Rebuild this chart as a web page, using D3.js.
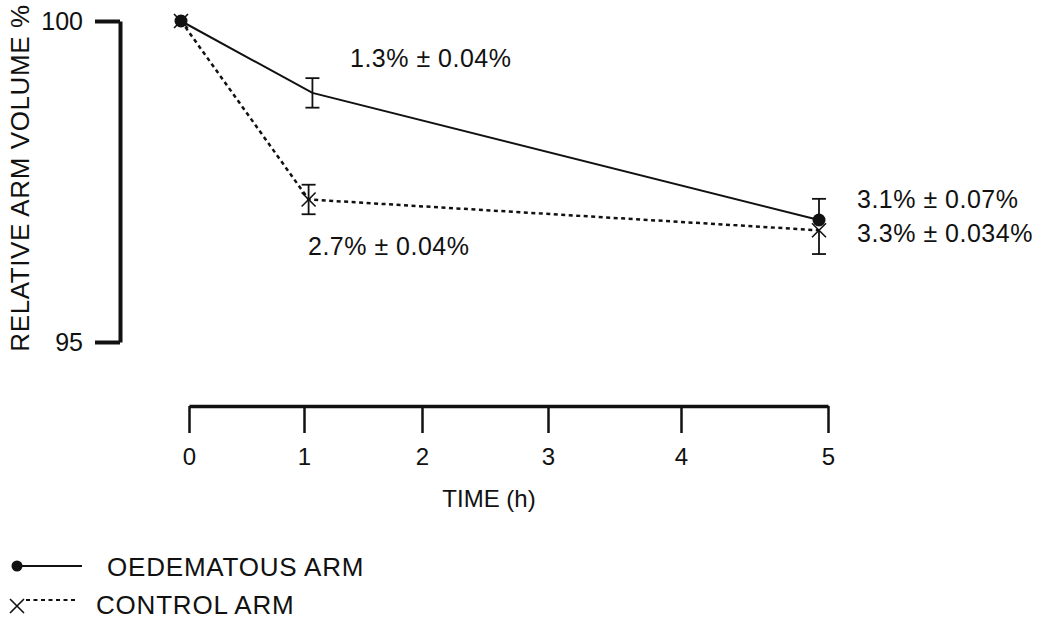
<!DOCTYPE html>
<html>
<head>
<meta charset="utf-8">
<script src="https://cdn.jsdelivr.net/npm/d3@7"></script>
<style>
  body { margin: 0; background: #fff; }
  text { font-family: "Liberation Sans", Arial, Helvetica, sans-serif; fill: #111; }
</style>
</head>
<body>
<div id="chart"></div>
<script>
var svgWidth = 1055;
var svgHeight = 621;

// data
var timeTicks = [0, 1, 2, 3, 4, 5];
var volumeTicks = [95, 100];

var oedTimes = [0, 1.03, 5];
var oedVolume = [100, 98.88, 96.9];
var oedErrUp = [0, 0.23, 0.33];
var oedErrDown = [0, 0.23, 0];

var ctrlTimes = [0, 1, 5];
var ctrlVolume = [100, 97.22, 96.74];
var ctrlErrUp = [0, 0.23, 0];
var ctrlErrDown = [0, 0.23, 0.37];

var annotations = ["1.3% ± 0.04%", "2.7% ± 0.04%", "3.1% ± 0.07%", "3.3% ± 0.034%"];

var seriesNames = ["OEDEMATOUS ARM", "CONTROL ARM"];

var svg = d3.select("#chart")
    .append("svg")
    .attr("width", svgWidth)
    .attr("height", svgHeight);

/********************************************************/

var xScale = d3.scaleLinear().domain([0, 5]).range([181, 819]);
// the printed time axis is not evenly spaced
var xAxisScale = d3.scaleLinear().domain(timeTicks).range([189, 304, 422, 548, 681, 828]);
var yScale = d3.scaleLinear().domain([95, 100]).range([342, 21]);

/********************************************************/

var leftAxis = d3.axisLeft(yScale)
    .tickValues(volumeTicks)
    .tickFormat(d3.format("d"))
    .tickSize(25)
    .tickSizeOuter(0)
    .tickPadding(12);

var yAxisG = svg.append("g")
    .attr("transform", "translate(120, 0)")
    .call(leftAxis);
yAxisG.select(".domain").attr("stroke", "#111").attr("stroke-width", 4);
yAxisG.selectAll(".tick line").attr("stroke", "#111").attr("stroke-width", 4);
yAxisG.selectAll(".tick text")
    .attr("font-size", 25)
    .attr("font-family", "Liberation Sans, Arial, sans-serif")
    .attr("fill", "#111");

var bottomAxis = d3.axisBottom(xAxisScale)
    .tickValues(timeTicks)
    .tickFormat(d3.format("d"))
    .tickSize(27)
    .tickSizeOuter(0)
    .tickPadding(15);

var xAxisG = svg.append("g")
    .attr("transform", "translate(0, 406)")
    .call(bottomAxis);
xAxisG.select(".domain").attr("stroke", "#111").attr("stroke-width", 3.5);
xAxisG.selectAll(".tick line").attr("stroke", "#111").attr("stroke-width", 2.5);
xAxisG.selectAll(".tick text")
    .attr("font-size", 24)
    .attr("font-family", "Liberation Sans, Arial, sans-serif")
    .attr("fill", "#111");

/********************************************************/

svg.append("text")
    .attr("transform", "rotate(-90)")
    .attr("x", -178)
    .attr("y", 29)
    .attr("text-anchor", "middle")
    .attr("font-size", 26)
    .attr("letter-spacing", 0.6)
    .text("RELATIVE ARM VOLUME %");

svg.append("text")
    .attr("x", 489)
    .attr("y", 507)
    .attr("text-anchor", "middle")
    .attr("font-size", 24)
    .text("TIME (h)");

/********************************************************/

var oedData = oedTimes.map((t, i) => ({t: t, v: oedVolume[i], up: oedErrUp[i], down: oedErrDown[i]}));
var ctrlData = ctrlTimes.map((t, i) => ({t: t, v: ctrlVolume[i], up: ctrlErrUp[i], down: ctrlErrDown[i]}));

var line = d3.line()
    .x(d => xScale(d.t))
    .y(d => yScale(d.v));

svg.append("path")
    .datum(ctrlData)
    .attr("d", line)
    .attr("fill", "none")
    .attr("stroke", "#111")
    .attr("stroke-width", 2.5)
    .attr("stroke-dasharray", "4,3.5");

svg.append("path")
    .datum(oedData)
    .attr("d", line)
    .attr("fill", "none")
    .attr("stroke", "#111")
    .attr("stroke-width", 2);

function drawErrors(data) {
    var g = svg.append("g").attr("stroke", "#111").attr("stroke-width", 1.8);
    data.filter(d => d.up > 0 || d.down > 0).forEach(function (d) {
        var x = xScale(d.t);
        var y0 = yScale(d.v + d.up);
        var y1 = yScale(d.v - d.down);
        g.append("line").attr("x1", x).attr("x2", x).attr("y1", y0).attr("y2", y1);
        if (d.up > 0) g.append("line").attr("x1", x - 7).attr("x2", x + 7).attr("y1", y0).attr("y2", y0);
        if (d.down > 0) g.append("line").attr("x1", x - 7).attr("x2", x + 7).attr("y1", y1).attr("y2", y1);
    });
}
drawErrors(oedData);
drawErrors(ctrlData);

// oedematous markers: filled circles (not at 1 h, where only the bar shows)
svg.selectAll(".oed-dot")
    .data(oedData.filter(d => d.t === 0 || d.t === 5))
    .enter()
    .append("circle")
    .attr("class", "oed-dot")
    .attr("cx", d => xScale(d.t))
    .attr("cy", d => yScale(d.v))
    .attr("r", 6.5)
    .attr("fill", "#111");

// control markers: crosses
svg.selectAll(".ctrl-x")
    .data(ctrlData)
    .enter()
    .append("path")
    .attr("class", "ctrl-x")
    .attr("transform", d => `translate(${xScale(d.t)}, ${yScale(d.v)})`)
    .attr("d", "M-7,-7L7,7M-7,7L7,-7")
    .attr("stroke", "#111")
    .attr("stroke-width", 1.6)
    .attr("fill", "none");

/********************************************************/

var annX = [350, 308, 857, 857];
var annY = [67, 255, 208, 242];
svg.selectAll(".ann")
    .data(annotations)
    .enter()
    .append("text")
    .attr("class", "ann")
    .attr("x", (d, i) => annX[i])
    .attr("y", (d, i) => annY[i])
    .attr("font-size", 25)
    .attr("letter-spacing", 0.5)
    .text(d => d);

/********************************************************/

var legend = svg.append("g");
legend.append("line")
    .attr("x1", 17).attr("x2", 82).attr("y1", 566).attr("y2", 566)
    .attr("stroke", "#111").attr("stroke-width", 2);
legend.append("circle")
    .attr("cx", 17).attr("cy", 566).attr("r", 5.5).attr("fill", "#111");
legend.append("text")
    .attr("x", 107).attr("y", 576)
    .attr("font-size", 26)
    .attr("letter-spacing", 0.8)
    .text(seriesNames[0]);

legend.append("line")
    .attr("x1", 26).attr("x2", 76).attr("y1", 600).attr("y2", 600)
    .attr("stroke", "#111").attr("stroke-width", 2.2)
    .attr("stroke-dasharray", "4,3.5");
legend.append("path")
    .attr("transform", "translate(17, 606)")
    .attr("d", "M-7,-7L7,7M-7,7L7,-7")
    .attr("stroke", "#111").attr("stroke-width", 1.6).attr("fill", "none");
legend.append("text")
    .attr("x", 96).attr("y", 614)
    .attr("font-size", 26)
    .attr("letter-spacing", 0.8)
    .text(seriesNames[1]);
</script>
</body>
</html>
